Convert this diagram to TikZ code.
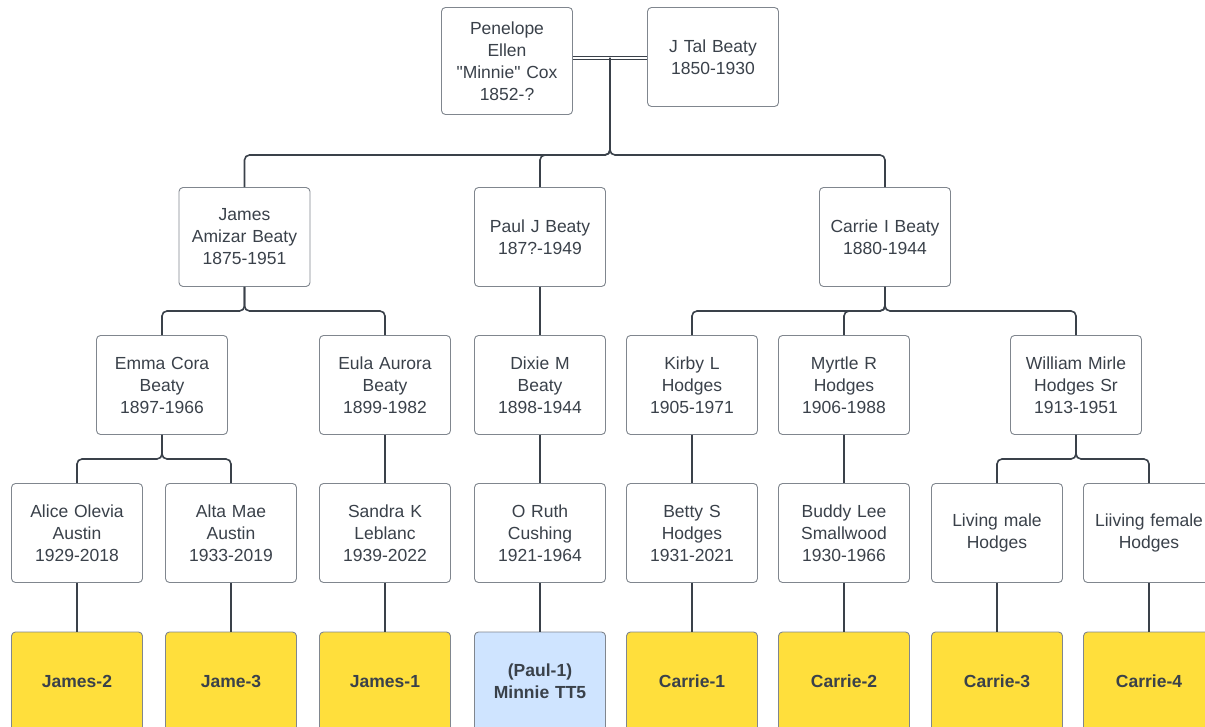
\documentclass[tikz,border=0pt]{standalone}
\usepackage{fontspec}
\setmainfont{Liberation Sans}[Ligatures=TeXOff]
\definecolor{txt}{HTML}{3A414A}
\definecolor{bord}{HTML}{80868E}
\definecolor{ln}{HTML}{3A414A}
\definecolor{yel}{HTML}{FFDF3C}
\definecolor{blu}{HTML}{CFE4FF}
\tikzset{
  person/.style={draw=bord, line width=0.9pt, rounded corners=4pt, fill=white,
    minimum width=131pt, minimum height=99pt, text width=127pt, align=center,
    text=txt, font=\fontsize{17.5}{22}\selectfont, inner sep=0pt},
  tag/.style={person, fill=yel, font=\bfseries\fontsize{17.5}{22}\selectfont},
  tagb/.style={person, fill=blu, font=\bfseries\fontsize{17.5}{22}\selectfont},
  link/.style={draw=ln, line width=1.6pt, rounded corners=5pt},
}
\begin{document}
\begin{tikzpicture}[x=1pt,y=-1pt]
\useasboundingbox (0,0) rectangle (1205,727);
\clip (0,0) rectangle (1205,727);
\fill[white] (0,0) rectangle (1205,727);
% top couple
\node[person, minimum height=107pt] (pen) at (507,61) {Penelope\\Ellen\\"Minnie" Cox\\1852-?};
\node[person] (jtal) at (713,57) {J Tal Beaty\\1850-1930};
% row 2
\node[person] (james) at (244.5,237) {James\\Amizar Beaty\\1875-1951};
\node[person] (paul) at (540,237) {Paul J Beaty\\187?-1949};
\node[person] (carrie) at (885,237) {Carrie I Beaty\\1880-1944};
% row 3
\node[person] (emma) at (162,385) {Emma Cora\\Beaty\\1897-1966};
\node[person] (eula) at (385,385) {Eula Aurora\\Beaty\\1899-1982};
\node[person] (dixie) at (540,385) {Dixie M\\Beaty\\1898-1944};
\node[person] (kirby) at (692,385) {Kirby L\\Hodges\\1905-1971};
\node[person] (myrtle) at (844,385) {Myrtle R\\Hodges\\1906-1988};
\node[person] (william) at (1076,385) {William Mirle\\Hodges Sr\\1913-1951};
% row 4
\node[person] (alice) at (77,533) {Alice Olevia\\Austin\\1929-2018};
\node[person] (alta) at (231,533) {Alta Mae\\Austin\\1933-2019};
\node[person] (sandra) at (385,533) {Sandra K\\Leblanc\\1939-2022};
\node[person] (oruth) at (540,533) {O Ruth\\Cushing\\1921-1964};
\node[person] (betty) at (692,533) {Betty S\\Hodges\\1931-2021};
\node[person] (buddy) at (844,533) {Buddy Lee\\Smallwood\\1930-1966};
\node[person] (lmale) at (997,533) {Living male\\Hodges};
\node[person] (lfemale) at (1149,533) {Liiving female\\Hodges};
% row 5
\node[tag] (t1) at (77,681.5) {James-2};
\node[tag] (t2) at (231,681.5) {Jame-3};
\node[tag] (t3) at (385,681.5) {James-1};
\node[tagb] (t4) at (540,681.5) {(Paul-1)\\Minnie TT5};
\node[tag] (t5) at (692,681.5) {Carrie-1};
\node[tag] (t6) at (844,681.5) {Carrie-2};
\node[tag] (t7) at (997,681.5) {Carrie-3};
\node[tag] (t8) at (1149,681.5) {Carrie-4};
% couple link
\draw[draw=ln, line width=1.2pt, double=white, double distance=1.6pt] (pen.east |- 0,58) -- (jtal.west |- 0,58);
\coordinate (cp) at (610,58);
\draw[link] (cp) -- (610,155) -| (james.north);
\draw[link] (cp) -- (610,155) -| (paul.north);
\draw[link] (cp) -- (610,155) -| (carrie.north);
% James children
\draw[link] (james.south) -- (james.south |- 0,311) -| (emma.north);
\draw[link] (james.south) -- (james.south |- 0,311) -| (eula.north);
% Paul
\draw[link] (paul.south) -- (dixie.north);
% Carrie children
\draw[link] (carrie.south) -- (carrie.south |- 0,311) -| (kirby.north);
\draw[link] (carrie.south) -- (carrie.south |- 0,311) -| (myrtle.north);
\draw[link] (carrie.south) -- (carrie.south |- 0,311) -| (william.north);
% row 3 -> row 4
\draw[link] (emma.south) -- (emma.south |- 0,459) -| (alice.north);
\draw[link] (emma.south) -- (emma.south |- 0,459) -| (alta.north);
\draw[link] (eula.south) -- (sandra.north);
\draw[link] (dixie.south) -- (oruth.north);
\draw[link] (kirby.south) -- (betty.north);
\draw[link] (myrtle.south) -- (buddy.north);
\draw[link] (william.south) -- (william.south |- 0,459) -| (lmale.north);
\draw[link] (william.south) -- (william.south |- 0,459) -| (lfemale.north);
% row 4 -> row 5
\draw[link] (alice.south) -- (t1.north);
\draw[link] (alta.south) -- (t2.north);
\draw[link] (sandra.south) -- (t3.north);
\draw[link] (oruth.south) -- (t4.north);
\draw[link] (betty.south) -- (t5.north);
\draw[link] (buddy.south) -- (t6.north);
\draw[link] (lmale.south) -- (t7.north);
\draw[link] (lfemale.south) -- (t8.north);
\end{tikzpicture}
\end{document}
